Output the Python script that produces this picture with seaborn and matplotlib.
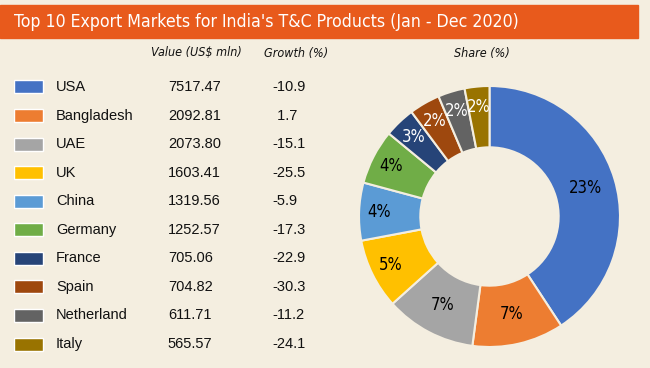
import matplotlib
matplotlib.use("Agg")
import matplotlib.pyplot as plt
import matplotlib.transforms as mtransforms
from matplotlib import font_manager
import numpy as np
import seaborn as sns

# dane
countries = ["USA", "Bangladesh", "UAE", "UK", "China", "Germany", "France", "Spain", "Netherland", "Italy"]
values = [7517.47, 2092.81, 2073.80, 1603.41, 1319.56, 1252.57, 705.06, 704.82, 611.71, 565.57]
growth = [-10.9, 1.7, -15.1, -25.5, -5.9, -17.3, -22.9, -30.3, -11.2, -24.1]
share = [23, 7, 7, 5, 4, 4, 3, 2, 2, 2]
colors = ["#4472C4", "#ED7D31", "#A5A5A5", "#FFC000", "#5B9BD5",
          "#70AD47", "#264478", "#9E480E", "#636363", "#997300"]
label_colors = ["black"] * 6 + ["white"] * 4

bg = "#F4EEE0"
orange = "#E85A1C"

sns.set_theme(style="white")
plt.rcParams["font.family"] = ["Liberation Sans", "DejaVu Sans"]

# waska czcionka, jesli jest
names = {f.name for f in font_manager.fontManager.ttflist}
cond = [f for f in font_manager.fontManager.ttflist
        if "Narrow" in f.name or f.stretch in ("condensed", "semi-condensed")]
if "Liberation Sans Narrow" in names:
    narrow = dict(family="Liberation Sans Narrow")
elif cond:
    narrow = dict(family=cond[0].name, stretch=cond[0].stretch)
else:
    narrow = dict(family="Liberation Sans")

W, H = 650, 368
fig = plt.figure(figsize=(W / 100, H / 100), dpi=100)
fig.patch.set_facecolor(bg)

# pasek tytulu
fig.patches.append(plt.Rectangle((0, 1 - 38 / H), 638 / W, 33 / H, transform=fig.transFigure,
                                 color=orange, zorder=0))
fig.text(14 / W, 1 - 22 / H, "Top 10 Export Markets for India's T&C Products (Jan - Dec 2020)",
         color="white", fontsize=12.7, va="center", **narrow)

# naglowki kolumn
for x, label in [(196, "Value (US$ mln)"), (296, "Growth (%)"), (482, "Share (%)")]:
    fig.text(x / W, 1 - 53 / H, label, style="italic", fontsize=9, ha="center", va="center",
             color="#111111", **narrow)

# tabela z kwadratami legendy
ax_t = fig.add_axes([14 / W, 1 - 358.3 / H, 326 / W, 285.6 / H])
sns.barplot(x=np.ones(len(countries)), y=countries, hue=countries, palette=colors,
            width=0.455, saturation=1, legend=False, orient="h", ax=ax_t)
ax_t.set_xlim(0, 326 / 29)
ax_t.set_ylim(9.5, -0.5)
ax_t.axis("off")
trans = mtransforms.blended_transform_factory(ax_t.transAxes, ax_t.transData)
for i, (name, v, g) in enumerate(zip(countries, values, growth)):
    ax_t.text(0.129, i, name, transform=trans, va="center", fontsize=10.5, color="#111111")
    ax_t.text(0.472, i, f"{v:.2f}", transform=trans, va="center", fontsize=10.5, color="#111111")
    gtxt = f"{g:.1f}" if g < 0 else f" {g:.1f}"
    ax_t.text(0.794, i, gtxt, transform=trans, va="center", fontsize=10.5, color="#111111")

# wykres pierscieniowy
ax_p = fig.add_axes([(489.5 - 130.5) / W, (H - 216.5 - 130.5) / H, 261 / W, 261 / H])
wedges, _ = ax_p.pie(values, colors=colors, startangle=90, counterclock=False, radius=1,
                     wedgeprops=dict(width=0.47, edgecolor=bg, linewidth=1.5))
total = sum(values)
for w, s, c, v in zip(wedges, share, label_colors, values):
    ang = np.deg2rad((w.theta1 + w.theta2) / 2)
    r = 0.77 if v / total > 0.1 else 0.845
    ax_p.text(r * np.cos(ang), r * np.sin(ang), f"{s}%", ha="center", va="center",
              fontsize=12, color=c, **narrow)
ax_p.set_xlim(-1, 1)
ax_p.set_ylim(-1, 1)

fig.savefig("out.png", dpi=100, facecolor=bg)
